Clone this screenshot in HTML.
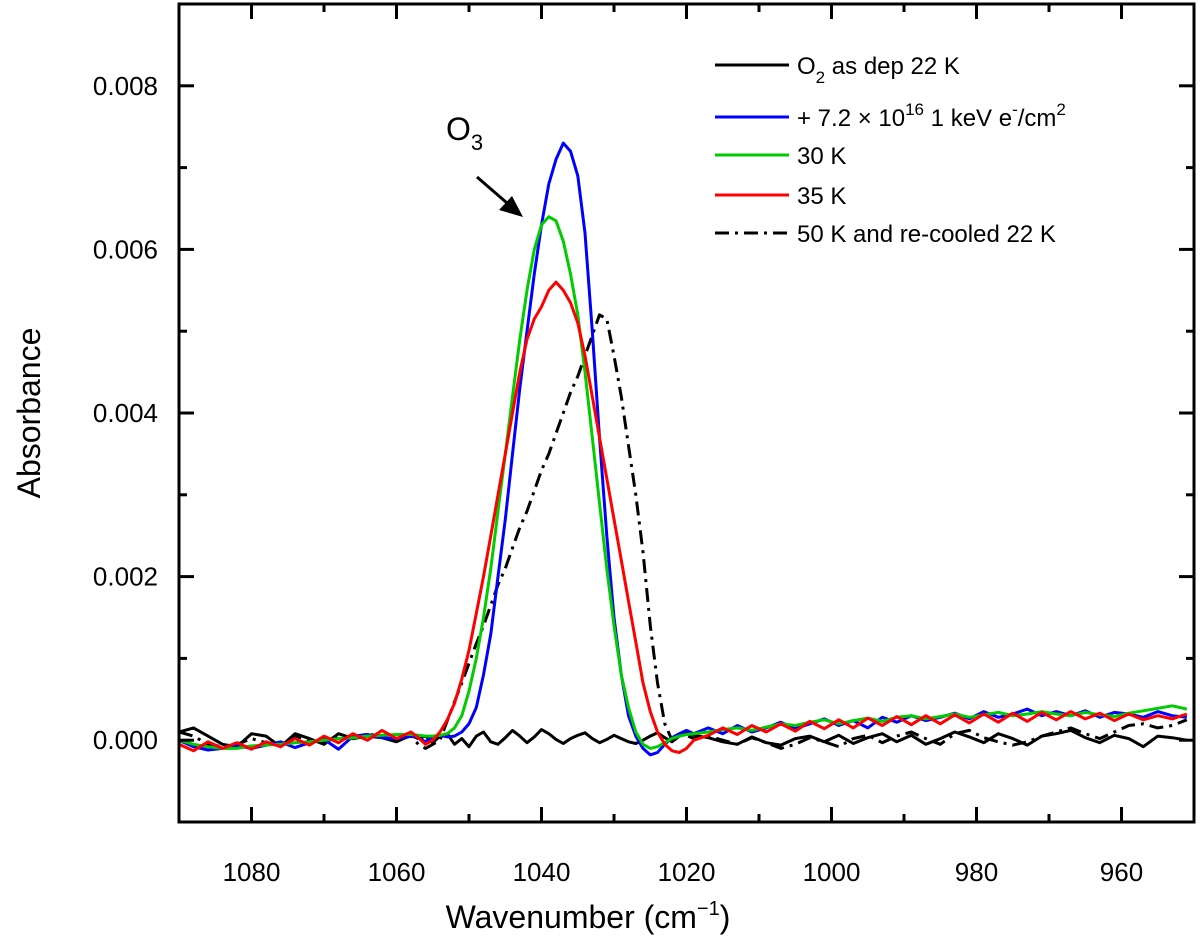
<!DOCTYPE html>
<html><head><meta charset="utf-8"><style>
body{margin:0;background:#fff}
svg{display:block;font-family:"Liberation Sans",Arial,sans-serif}
</style></head><body>
<svg id="chart" width="1200" height="949" viewBox="0 0 1200 949" xmlns="http://www.w3.org/2000/svg">
<g id="series"></g>
<g id="axes"></g>
<text x="0" y="0" transform="translate(40,413) rotate(-90)" text-anchor="middle" font-size="32">Absorbance</text>
<text x="588" y="928" text-anchor="middle" font-size="32">Wavenumber (cm<tspan dy="-13" font-size="20">−1</tspan><tspan dy="13">)</tspan></text>
<g>
<text x="446" y="140" font-size="32">O<tspan dy="10" font-size="22">3</tspan></text>
<line x1="477" y1="177" x2="507" y2="203" stroke="#000" stroke-width="3"/>
<polygon points="523,217 499,210 512,196" fill="#000"/>
</g>
<g id="legend" font-size="24"></g>
</svg>
<script>
const wavenumbers=[1090,1088,1086,1084,1082,1080,1078,1076,1074,1072,1070,1068,1066,1064,1062,1060,1058,
1057,1056,1055,1054,1053,1052,1051,1050,1049,1048,1047,1046,1045,1044,1043,1042,1041,1040,1039,1038,1037,1036,1035,1034,1033,1032,1031,1030,1029,1028,1027,1026,1025,1024,1023,1022,1021,1020,1019,
1017,1015,1013,1011,1009,1007,1005,1003,1001,999,997,995,993,991,989,987,985,983,981,979,977,975,973,971,969,967,965,963,961,959,957,955,953,951];
// absorbance values in units of 1e-4
const o2AsDep=[1,1.5,0.5,-0.5,-0.8,0.8,0.5,-0.8,0.8,0.2,-0.5,0.8,0.2,0.5,0.3,-0.2,0.6,
0.2,0.5,-0.3,0.5,0.8,-0.5,0.2,-0.8,0.5,1.0,-0.2,-0.5,0.3,1.2,0.5,-0.3,0.4,1.3,0.8,0.1,-0.4,0.2,0.6,0.9,0.2,-0.3,0.1,0.6,0.2,-0.2,-0.4,0,0.5,0.9,0.3,-0.2,0.5,1.0,0.6,
0.3,-0.2,-0.5,0.4,-0.3,-0.6,0.2,0.5,-0.2,0.6,-0.4,0.3,0.8,-0.2,0.6,-0.5,0.2,1.0,0.4,-0.3,0.8,0.2,-0.6,0.5,0.8,1.2,0.3,-0.3,0.6,0.2,-0.8,0.5,0.3,0];
const irradiated=[0,-0.8,-1.2,-1,-0.7,-1.0,-0.6,-0.2,-0.9,-0.3,0.1,-1.1,0.5,0.7,0.3,0.2,0.5,
0.3,-0.2,0.4,0.6,0.4,0.5,1,2,4,8,13,20,27,35,43,50,57,63,68,71,73,72,69,62,50,37,25,15,8,3,0.5,-1,-1.8,-1.5,-0.5,0.3,0.8,1.2,0.8,
1.5,0.8,1.8,1.0,1.5,2.2,1.4,2.0,2.6,1.8,2.4,1.5,2.8,2.2,3.0,2.4,2.8,3.3,2.6,3.5,2.8,3.2,3.8,3.0,3.5,3.0,3.6,2.8,3.4,3.2,2.8,3.5,3.0,2.8];
const warmed30K=[0,-0.5,-0.8,-1.0,-1.0,-0.7,-0.6,-0.5,-0.3,-0.2,0,0.2,0.3,0.5,0.6,0.7,0.7,
0.6,0.5,0.5,0.6,0.8,1.5,3,6,10,15,21,28,35,42,49,55,60,63,64,63.5,61,57,52,45,37,29,21,14,8,4,1,-0.5,-1,-0.8,-0.3,0.2,0.5,0.7,0.8,
1.0,1.3,1.5,1.2,1.6,2.0,1.8,2.2,2.5,2.0,2.4,2.7,2.3,2.8,3.0,2.6,2.9,3.2,2.8,3.1,3.4,3.0,3.2,3.5,3.2,3.0,3.4,3.1,2.9,3.3,3.6,3.9,4.2,3.8];
const warmed35K=[-0.5,-1.3,-0.2,-1.0,-0.3,-1.1,-0.2,-0.8,0.2,-0.6,0.5,-0.3,0.8,0,1.2,0.2,1.0,
0.3,-0.5,0,1,2.5,4.5,7.5,11,15.5,20,25,30,35,40,45,49,51.5,53,55,56,55,53.5,51,47,42,37,32,27,22,17,12,7,3.5,1,-0.5,-1.3,-1.5,-1,0,
0.6,1.5,0.7,1.8,1.0,2.0,1.1,2.3,1.4,2.5,1.5,2.7,1.8,2.9,1.9,3.0,2.0,3.1,2.1,3.2,2.2,3.3,2.3,3.4,2.5,3.5,2.6,3.3,2.4,3.2,2.5,3.0,2.6,3.2];
const recooled=[1,0.5,-0.5,-0.8,-0.5,0.2,-0.3,-0.6,0.5,0,-0.3,0.5,0.2,0.8,0.4,0,0.5,
-0.5,-1.0,-0.5,0,2.4,4.7,7,9.4,11.8,14,16.5,19,21,23.5,26,28,30.5,33,35,37.5,40,42.5,44.5,47,49.5,52,51.5,47,42,36,30,23,14,7,2,0,0.8,0.6,0.2,
0.5,0,-0.5,0.3,-0.3,-1,-0.5,0.3,-0.2,-0.8,0.2,0.6,-0.3,0.5,1.0,0.2,-0.5,0.8,1.2,0.3,-0.2,-0.6,-0.2,0.5,1.0,1.5,0.8,0.2,1.0,1.8,2.0,1.5,1.8,2.5];
const xTicks=[1080,1060,1040,1020,1000,980,960];
const yTicks=[0,0.002,0.004,0.006,0.008];
const yTickLabels=["0.000","0.002","0.004","0.006","0.008"];

const L=179,R=1194,T=4,B=822,XMAX=1090,XMIN=950,YMIN=-0.001,YMAX=0.009;
const sx=v=>L+(XMAX-v)/(XMAX-XMIN)*(R-L);
const sy=v=>B-(v-YMIN)/(YMAX-YMIN)*(B-T);
const NS="http://www.w3.org/2000/svg";
function mk(tag,attrs,parent){const e=document.createElementNS(NS,tag);for(const k in attrs)e.setAttribute(k,attrs[k]);parent.appendChild(e);return e;}
const sg=document.getElementById('series');
const defs=[
 {d:o2AsDep,c:"#000",n:"series-o2-as-dep",dash:null},
 {d:recooled,c:"#000",n:"series-50k-recooled",dash:"14,6,3,6"},
 {d:irradiated,c:"#0000ff",n:"series-irradiated",dash:null},
 {d:warmed30K,c:"#00cc00",n:"series-30k",dash:null},
 {d:warmed35K,c:"#ff0000",n:"series-35k",dash:null}];
const clip=mk('clipPath',{id:'pc'},sg);mk('rect',{x:L,y:T,width:R-L,height:B-T},clip);
defs.forEach(s=>{
 const pts=wavenumbers.map((w,i)=>sx(w).toFixed(1)+","+sy(s.d[i]*1e-4).toFixed(1)).join(" ");
 const p=mk('polyline',{points:pts,fill:"none",stroke:s.c,"stroke-width":3,"stroke-linejoin":"round","clip-path":"url(#pc)"},sg);
 if(s.dash)p.setAttribute('stroke-dasharray',s.dash);
 
 
});
const ag=document.getElementById('axes');
const frame=mk('rect',{x:L,y:T,width:R-L,height:B-T,fill:"none",stroke:"#000","stroke-width":3},ag);


for(let v=1090;v>=950;v-=10){
 const major=xTicks.includes(v);const len=major?15:8;const x=sx(v);
 mk('line',{x1:x,y1:B,x2:x,y2:B-len,stroke:"#000","stroke-width":3},ag);
 mk('line',{x1:x,y1:T,x2:x,y2:T+len,stroke:"#000","stroke-width":3},ag);
}
xTicks.forEach(v=>{
 const t=mk('text',{x:sx(v),y:881,"text-anchor":"middle","font-size":26},ag);t.textContent=v;
 
 
});
for(let k=-1;k<=9;k++){
 const v=k*0.001;
 const major=k>=0&&k%2===0&&k<=8;
 const len=major?15:8;const y=sy(v);
 if(k===-1)continue;
 mk('line',{x1:L,y1:y,x2:L+len,y2:y,stroke:"#000","stroke-width":3},ag);
 mk('line',{x1:R,y1:y,x2:R-len,y2:y,stroke:"#000","stroke-width":3},ag);
}
yTicks.forEach((v,i)=>{
 const t=mk('text',{x:158,y:sy(v)+9,"text-anchor":"end","font-size":26},ag);t.textContent=yTickLabels[i];
 
 
});
const lg=document.getElementById('legend');
const rows=[{y:65,c:"#000",dash:null},{y:117,c:"#0000ff",dash:null},{y:155,c:"#00cc00",dash:null},{y:195,c:"#ff0000",dash:null},{y:233,c:"#000",dash:"14,6,3,6"}];
const html=[
 'O<tspan dy="9" font-size="17">2</tspan><tspan dy="-9"> as dep 22 K</tspan>',
 '+ 7.2 × 10<tspan dy="-11" font-size="17">16</tspan><tspan dy="11">  1 keV e</tspan><tspan dy="-11" font-size="17">-</tspan><tspan dy="11">/cm</tspan><tspan dy="-11" font-size="17">2</tspan>',
 '30 K','35 K','50 K and re-cooled 22 K'];
rows.forEach((r,i)=>{
 const l=mk('line',{x1:715,y1:r.y,x2:789,y2:r.y,stroke:r.c,"stroke-width":3},lg);
 if(r.dash)l.setAttribute('stroke-dasharray',r.dash);
 
 
 const t=mk('text',{x:797,y:r.y+9},lg);t.innerHTML=html[i];
 
 
});
</script>
</body></html>
